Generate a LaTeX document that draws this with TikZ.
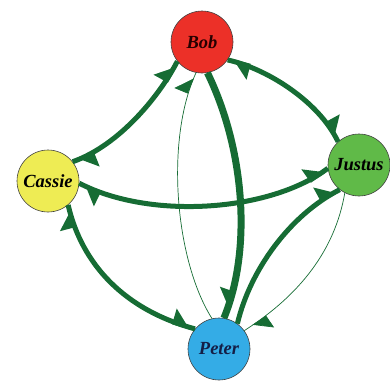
\documentclass[tikz,border=0pt]{standalone}
\usepackage{fontspec}
\setmainfont{Liberation Serif}
\usetikzlibrary{arrows.meta,decorations.markings}
\definecolor{edgec}{RGB}{22,108,52}
\definecolor{thinc}{RGB}{150,160,150}
\definecolor{bobc}{RGB}{236,48,40}
\definecolor{cassc}{RGB}{238,236,84}
\definecolor{jusc}{RGB}{96,186,72}
\definecolor{petc}{RGB}{52,172,230}
\tikzset{
  person/.style={circle, draw=black!75, line width=0.6pt, minimum size=62pt, inner sep=0pt,
    font=\fontsize{18.5}{18.5}\selectfont\bfseries\itshape},
  rel/.style={draw=edgec, color=edgec, line width=#1},
  faint/.style={draw=thinc, color=edgec, line width=0.7pt},
  headend/.style={postaction={decorate, decoration={markings,
     mark=at position -#1 with {\arrow{Triangle[left,length=16pt,width=28pt]}}}}},
  headendr/.style={postaction={decorate, decoration={markings,
     mark=at position -#1 with {\arrow{Triangle[right,length=16pt,width=28pt]}}}}},
  headstart/.style={postaction={decorate, decoration={markings,
     mark=at position #1 with {\arrowreversed{Triangle[right,length=16pt,width=28pt]}}}}},
}
\begin{document}
\begin{tikzpicture}[x=1pt,y=-1pt]
\useasboundingbox (0,0) rectangle (390,380);
\node[person, fill=bobc, text=black!85!red] (bob) at (202,42) {Bob};
\node[person, fill=cassc, text=black] (cassie) at (48,181) {Cassie};
\node[person, fill=jusc, text=black] (justus) at (359,165) {Justus};
\node[person, fill=petc, text={rgb,255:red,20;green,30;blue,70}] (peter) at (219,349) {Peter};

% Bob -- Cassie
\path[rel=5pt, headend=5pt, headstart=5pt] (bob.218) .. controls (160,95) and (120,145) .. (cassie.38);
% Bob -- Justus
\path[rel=5pt, headend=5pt, headstart=5pt] (bob.325) .. controls (265,68) and (318,100) .. (justus.132);
% Justus -- Cassie
\path[rel=5pt, headend=5pt, headstart=4pt] (justus.186) .. controls (270,212) and (150,220) .. (cassie.356);
% Cassie -- Peter
\path[rel=5pt, headend=5pt, headstart=5pt] (cassie.310) .. controls (82,265) and (125,310) .. (peter.140);
% Peter -> Justus thick
\path[rel=5pt, headend=4pt] (peter.54) .. controls (250,270) and (290,215) .. (justus.232);
% Bob -> Peter thick
\path[rel=7pt, headendr=10pt] (bob.280) .. controls (245,150) and (252,250) .. (peter.81);
% Peter -> Bob thin
\path[faint, headend=6pt] (peter.103) .. controls (175,260) and (165,140) .. (bob.259);
% Justus -> Peter thin
\path[faint, headend=10pt] (justus.243) .. controls (335,250) and (300,295) .. (peter.36);
\end{tikzpicture}
\end{document}
